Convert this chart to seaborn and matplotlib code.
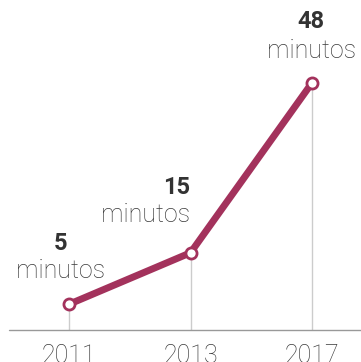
import matplotlib
matplotlib.use("Agg")
import matplotlib.pyplot as plt
import seaborn as sns
import pandas as pd

years = ["2011", "2013", "2017"]
minutes = [5, 15, 48]
value_labels = ["5", "15", "48"]
unit_label = "minutos"

sns.set_theme(style="white")
plt.rcParams["font.family"] = ["Roboto", "DejaVu Sans"]

df = pd.DataFrame({"year": years, "minutes": minutes})

fig = plt.figure(figsize=(3.61, 3.62), dpi=100)
ax = fig.add_axes([0, 0, 1, 1])

PX0 = 330.0   # pixel row of y=0
PXU = 5.15    # pixels per minute

line_color = "#a3325c"
sns.lineplot(data=df, x="year", y="minutes", ax=ax, color=line_color,
             linewidth=5, marker="o", markersize=8, markerfacecolor="white",
             markeredgecolor=line_color, markeredgewidth=2, zorder=3,
             solid_capstyle="round")

xs = list(range(len(years)))
ax.vlines(xs, 0, minutes, color="#cccccc", linewidth=1, zorder=1)
ax.axhline(0, xmin=9/361, xmax=1, color="#999999", linewidth=1, zorder=2)

ax.set_xlim(-0.568, 2.403)
ax.set_ylim(-(362 - PX0) / PXU, PX0 / PXU)
ax.axis("off")

def ypx(p):
    return (PX0 - p) / PXU

for x, yr in zip(xs, years):
    ax.text(x, ypx(356), yr, ha="center", va="center", fontsize=18,
            fontweight="light", color="#3a3a3a")

label_specs = [
    (-0.07, 243, 271, "center"),
    (0.995, 187, 215, "right"),
    (1.995, 22, 51, "center"),
]
for (x, yv_px, yu_px, ha), vl in zip(label_specs, value_labels):
    ax.text(x, ypx(yv_px), vl, ha=ha, va="center", fontsize=17,
            fontweight="bold", color="#333333")
    ax.text(x, ypx(yu_px), unit_label, ha=ha, va="center", fontsize=18,
            fontweight="light", color="#3a3a3a")

if ax.legend_:
    ax.legend_.remove()
fig.savefig("out.png", dpi=100)
